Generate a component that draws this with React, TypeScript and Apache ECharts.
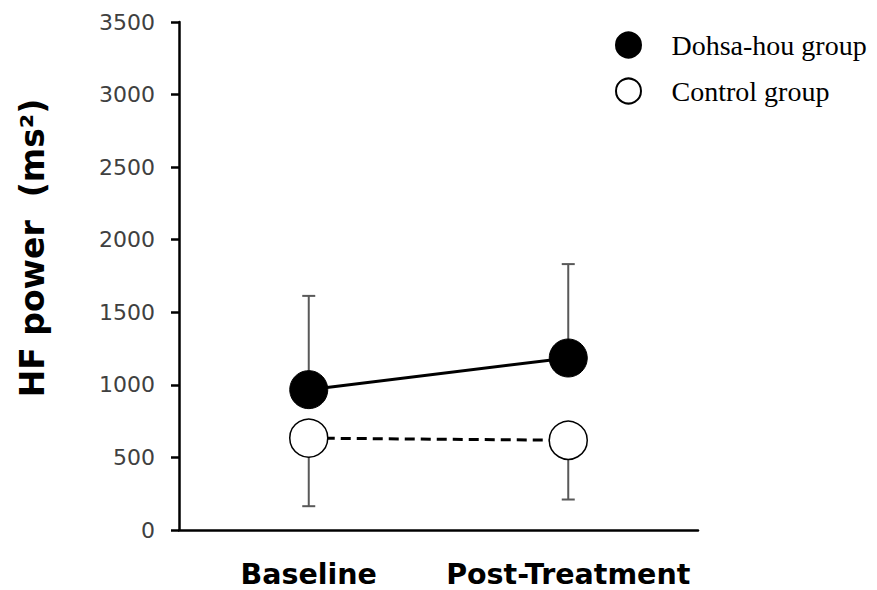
import React, { useEffect, useRef } from "react";
import * as echarts from "echarts";

const categories = ["Baseline", "Post-Treatment"];
const dohsaMean = [967, 1185];
const dohsaSD = [646, 647];
const controlMean = [633, 618];
const controlSD = [469, 408];
const yTicks = { min: 0, max: 3500, interval: 500 };

export default function App() {
  const ref = useRef<HTMLDivElement>(null);
  useEffect(() => {
    if (!ref.current) return;
    const chart = echarts.init(ref.current, null, { renderer: "svg" });
    const errData = (mean: number[], sd: number[], dir: number) =>
      mean.map((m, i) => [i, m, m + dir * sd[i]]);
    const renderErr = (params: any, api: any) => {
      const x = api.value(0);
      const a = api.coord([x, api.value(1)]);
      const b = api.coord([x, api.value(2)]);
      const hw = 6.5;
      return {
        type: "group",
        children: [
          { type: "line", shape: { x1: a[0], y1: a[1], x2: b[0], y2: b[1] }, style: { stroke: "#595959", lineWidth: 2 } },
          { type: "line", shape: { x1: b[0] - hw, y1: b[1], x2: b[0] + hw, y2: b[1] }, style: { stroke: "#595959", lineWidth: 2 } },
        ],
      };
    };
    chart.setOption({
      animation: false,
      backgroundColor: "#ffffff",
      grid: { left: 179, right: 179, top: 22, bottom: 60, containLabel: false },
      legend: {
        orient: "vertical",
        left: 610,
        top: 26,
        icon: "circle",
        itemWidth: 76,
        itemHeight: 25,
        itemGap: 18,
        data: ["Dohsa-hou group", "Control group"],
        textStyle: { fontFamily: "Liberation Serif", fontSize: 28, color: "#000" },
      },
      xAxis: {
        type: "category",
        data: categories,
        axisLine: { lineStyle: { color: "#000", width: 2.5 } },
        axisTick: { show: false },
        axisLabel: {
          interval: 0,
          hideOverlap: false,
          fontFamily: "DejaVu Sans",
          fontWeight: "bold",
          fontSize: 28.5,
          color: "#000",
          margin: 30,
        },
      },
      yAxis: {
        type: "value",
        min: yTicks.min,
        max: yTicks.max,
        interval: yTicks.interval,
        splitLine: { show: false },
        axisLine: { show: true, lineStyle: { color: "#000", width: 2.5 } },
        axisTick: { show: true, length: 8, lineStyle: { color: "#000", width: 2.5 } },
        axisLabel: {
          fontFamily: "DejaVu Sans",
          fontSize: 22,
          color: "#404040",
          margin: 24,
          formatter: (v: number) => String(v),
        },
      },
      graphic: [
        {
          type: "text",
          x: 32,
          y: 248,
          rotation: Math.PI / 2,
          style: {
            text: "HF power  (ms²)",
            fontFamily: "DejaVu Sans",
            fontWeight: "bold",
            fontSize: 33,
            fill: "#000",
            textAlign: "center",
            textVerticalAlign: "middle",
          },
        },
      ],
      series: [
        {
          type: "custom",
          name: "errD",
          renderItem: renderErr,
          data: errData(dohsaMean, dohsaSD, 1),
          z: 1,
          silent: true,
        },
        {
          type: "custom",
          name: "errC",
          renderItem: renderErr,
          data: errData(controlMean, controlSD, -1),
          z: 1,
          silent: true,
        },
        {
          type: "line",
          name: "Dohsa-hou group",
          data: dohsaMean,
          symbol: "circle",
          symbolSize: 38,
          lineStyle: { color: "#000", width: 3 },
          itemStyle: { color: "#000", borderColor: "#000", borderWidth: 1 },
          z: 3,
        },
        {
          type: "line",
          name: "Control group",
          data: controlMean,
          symbol: "circle",
          symbolSize: 38,
          lineStyle: { color: "#000", width: 3, type: [10, 6] },
          itemStyle: { color: "#fff", borderColor: "#000", borderWidth: 1.5 },
          z: 3,
        },
      ],
    });
    return () => chart.dispose();
  }, []);
  return (
    <div
      ref={ref}
      style={{ position: "fixed", left: 0, top: 0, width: 877, height: 590, background: "#fff" }}
    />
  );
}
